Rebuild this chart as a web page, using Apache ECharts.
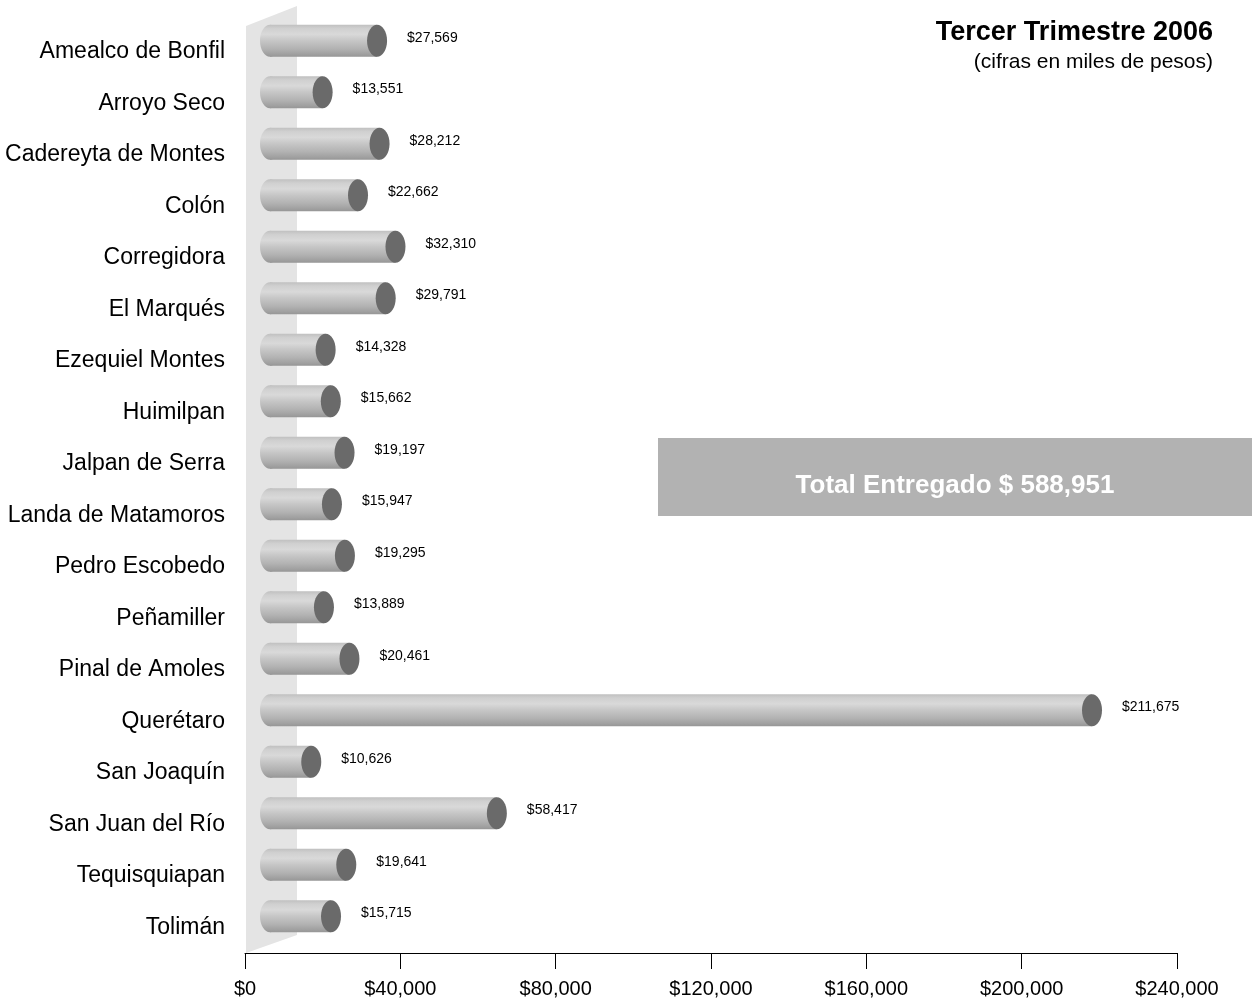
<!DOCTYPE html>
<html><head><meta charset="utf-8">
<script src="https://cdn.jsdelivr.net/npm/echarts@6/dist/echarts.min.js"></script>
<style>html,body{margin:0;padding:0;background:#fff}#c{width:1257px;height:1004px}</style>
</head><body><div id="c"></div>
<script>
const categories = ["Amealco de Bonfil","Arroyo Seco","Cadereyta de Montes","Colón","Corregidora","El Marqués","Ezequiel Montes","Huimilpan","Jalpan de Serra","Landa de Matamoros","Pedro Escobedo","Peñamiller","Pinal de Amoles","Querétaro","San Joaquín","San Juan del Río","Tequisquiapan","Tolimán"];
const values = [27569,13551,28212,22662,32310,29791,14328,15662,19197,15947,19295,13889,20461,211675,10626,58417,19641,15715];
const xTicks = [0,40000,80000,120000,160000,200000,240000];
const titleText = "Tercer Trimestre 2006";
const subtitleText = "(cifras en miles de pesos)";
const totalText = "Total Entregado $ 588,951";

const fmt = v => '$' + Math.round(v).toLocaleString('en-US');
const FONT = '"Liberation Sans", Arial, sans-serif';
const chart = echarts.init(document.getElementById('c'));

const DX = 25, DY = -11, H = 32, RX = 10;
const bodyGrad = () => new echarts.graphic.LinearGradient(0,0,0,1,[
  {offset:0, color:'#c0c0c0'},
  {offset:0.12, color:'#d0d0d0'},
  {offset:0.3, color:'#d9d9d9'},
  {offset:0.5, color:'#c6c6c6'},
  {offset:0.75, color:'#b2b2b2'},
  {offset:0.92, color:'#a0a0a0'},
  {offset:1, color:'#969696'}
]);

chart.setOption({
  animation:false,
  grid:{left:245, right:80, top:26, bottom:51, containLabel:false},
  xAxis:{type:'value', min:xTicks[0], max:xTicks[xTicks.length-1], interval:40000,
    axisLine:{show:true, lineStyle:{color:'#000', width:1}},
    axisTick:{show:true, length:16, lineStyle:{color:'#000'}},
    splitLine:{show:false},
    axisLabel:{formatter:fmt, fontSize:20, color:'#000', fontFamily:FONT, margin:26}},
  yAxis:{type:'category', data:categories, inverse:true,
    axisLine:{show:false}, axisTick:{show:false},
    axisLabel:{fontSize:23, color:'#000', fontFamily:FONT, margin:20}},
  series:[{
    type:'custom',
    data: values.map((v,i)=>[v,i]),
    encode:{x:0, y:1},
    z:5,
    renderItem:(params, api)=>{
      const v = api.value(0), c = api.value(1);
      const p0 = api.coord([0,c]), p1 = api.coord([v,c]);
      const cy = p0[1] + DY, xs = p0[0] + DX, xe = p1[0] + DX;
      return {type:'group', children:[
        {type:'ellipse', shape:{cx:xs, cy:cy, rx:RX, ry:H/2}, style:{fill:bodyGrad()}},
        {type:'rect', shape:{x:xs, y:cy-H/2, width:xe-xs, height:H}, style:{fill:bodyGrad()}},
        {type:'ellipse', shape:{cx:xe, cy:cy, rx:RX, ry:H/2}, style:{fill:'#6a6a6a'}},
        {type:'text', style:{text:fmt(v), x:xe+RX+20, y:cy-3, fontSize:14, fill:'#000', fontFamily:FONT, verticalAlign:'middle', align:'left'}}
      ]};
    }
  }]
});

// 3D side wall computed from the axis scale
const x0 = chart.convertToPixel({xAxisIndex:0}, 0);
const yTop = chart.convertToPixel({yAxisIndex:0}, 0) - 51.5/2;
const yBot = chart.convertToPixel({yAxisIndex:0}, categories.length-1) + 51.5/2;
chart.setOption({
  graphic:[
    {type:'polygon', z:-10, shape:{points:[[x0+1,yTop],[x0+52,yTop-20],[x0+52,yBot-18],[x0+1,yBot]]}, style:{fill:'#e4e4e4'}},
    {type:'text', right:44, top:19, z:10, style:{text:titleText, fontSize:27, fontWeight:'bold', fill:'#000', fontFamily:FONT}},
    {type:'text', right:44, top:52, z:10, style:{text:subtitleText, fontSize:21, fill:'#000', fontFamily:FONT}},
    {type:'rect', left:658, top:438, z:10, shape:{width:594, height:78}, style:{fill:'#b2b2b2'}},
    {type:'text', x:955, y:486, z:11, style:{text:totalText, fontSize:26, fontWeight:'bold', fill:'#fff', fontFamily:FONT, align:'center', verticalAlign:'middle'}}
  ]
});
</script></body></html>
